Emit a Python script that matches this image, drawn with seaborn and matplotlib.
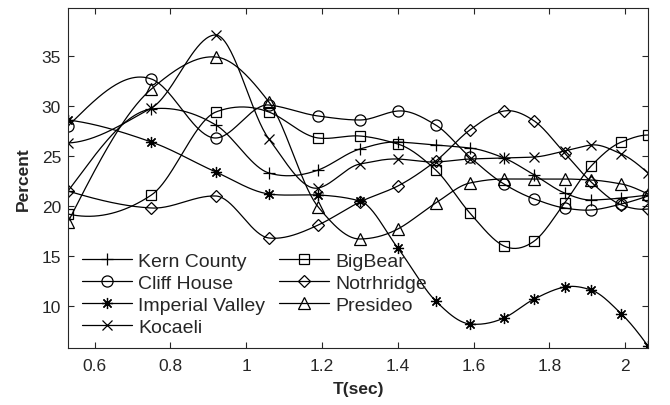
import numpy as np
import pandas as pd
import matplotlib
matplotlib.use("Agg")
import matplotlib.pyplot as plt
import seaborn as sns
from matplotlib.lines import Line2D

# periods (s) where the markers sit
T = [0.53, 0.75, 0.92, 1.06, 1.19, 1.30, 1.40, 1.50, 1.59, 1.68, 1.76, 1.84, 1.91, 1.99, 2.06]

kern_county = [21.5, 29.7, 28.1, 23.3, 23.6, 25.7, 26.4, 26.1, 25.8, 24.8, 23.1, 21.3, 20.6, 20.8, 21.1]
cliff_house = [28.0, 32.7, 26.8, 30.1, 29.0, 28.6, 29.5, 28.1, 24.9, 22.2, 20.7, 19.8, 19.6, 20.2, 21.0]
imperial_valley = [28.6, 26.4, 23.4, 21.2, 21.1, 20.5, 15.8, 10.5, 8.2, 8.8, 10.7, 11.9, 11.6, 9.2, 6.0]
kocaeli = [26.3, 29.8, 37.1, 26.7, 21.8, 24.2, 24.7, 24.4, 24.7, 24.8, 24.9, 25.5, 26.1, 25.2, 23.3]
bigbear = [19.2, 21.1, 29.4, 29.4, 26.8, 27.0, 26.2, 23.6, 19.3, 16.0, 16.5, 20.3, 24.0, 26.4, 27.1]
notrhridge = [21.5, 19.8, 21.0, 16.8, 18.1, 20.4, 22.0, 24.5, 27.6, 29.5, 28.5, 25.3, 22.4, 20.1, 19.7]
presideo = [18.4, 31.7, 34.9, 30.4, 19.9, 16.7, 17.7, 20.3, 22.3, 22.7, 22.7, 22.7, 22.6, 22.2, 21.2]

# legend fills column by column: left column first, then right one
names = ["Kern County", "Cliff House", "Imperial Valley", "Kocaeli",
         "BigBear", "Notrhridge", "Presideo"]
series = [kern_county, cliff_house, imperial_valley, kocaeli,
          bigbear, notrhridge, presideo]
markers = ["+", "o", (8, 2, 0), "x", "s", "D", "^"]
msizes = [8, 8, 8, 6.5, 6.5, 6.5, 8]


def makima_curve(x, y, n=400):
    # modified Akima interpolation for the smooth lines between markers
    x = np.asarray(x, float)
    y = np.asarray(y, float)
    h = np.diff(x)
    d = np.diff(y) / h
    d = np.concatenate([[3 * d[0] - 2 * d[1], 2 * d[0] - d[1]], d,
                        [2 * d[-1] - d[-2], 3 * d[-1] - 2 * d[-2]]])
    slopes = np.zeros(len(x))
    for i in range(len(x)):
        dm2, dm1, d0, dp1 = d[i], d[i + 1], d[i + 2], d[i + 3]
        w1 = abs(dp1 - d0) + abs(dp1 + d0) / 2
        w2 = abs(dm1 - dm2) + abs(dm1 + dm2) / 2
        if w1 + w2 == 0:
            slopes[i] = 0.0
        else:
            slopes[i] = (w1 * dm1 + w2 * d0) / (w1 + w2)
    xs = np.linspace(x[0], x[-1], n)
    k = np.clip(np.searchsorted(x, xs) - 1, 0, len(x) - 2)
    hk = h[k]
    t = (xs - x[k]) / hk
    h00 = 2 * t**3 - 3 * t**2 + 1
    h10 = t**3 - 2 * t**2 + t
    h01 = -2 * t**3 + 3 * t**2
    h11 = t**3 - t**2
    ys = h00 * y[k] + h10 * hk * slopes[k] + h01 * y[k + 1] + h11 * hk * slopes[k + 1]
    return xs, ys


sns.set_style("ticks")
plt.rcParams["font.family"] = ["Liberation Sans", "DejaVu Sans"]
plt.rcParams["axes.edgecolor"] = "#262626"

fig = plt.figure(figsize=(6.7, 4.06), dpi=100)
ax = fig.add_axes([0.1015, 0.1404, 0.8657, 0.8374])

handles = []
for name, vals, mk, ms in zip(names, series, markers, msizes):
    xs, ys = makima_curve(T, vals)
    sns.lineplot(x=xs, y=ys, color="black", lw=0.9, ax=ax, sort=False)
    ax.plot(T, vals, linestyle="none", marker=mk, ms=ms, mfc="none",
            mec="black", mew=0.9)
    handles.append(Line2D([], [], color="black", lw=0.9, marker=mk, ms=ms,
                          mfc="none", mec="black", mew=0.9, label=name))

ax.set_xlim(0.53, 2.06)
ax.set_ylim(5.8, 39.8)
ax.set_xticks([0.6, 0.8, 1.0, 1.2, 1.4, 1.6, 1.8, 2.0])
ax.set_xticklabels(["0.6", "0.8", "1", "1.2", "1.4", "1.6", "1.8", "2"])
ax.set_yticks([10, 15, 20, 25, 30, 35])
ax.tick_params(direction="in", length=4, width=0.8, top=True, right=True,
               labelsize=12.5, colors="#262626", labelcolor="#262626")
ax.tick_params(axis="x", pad=7)
ax.tick_params(axis="y", pad=5)
for s in ax.spines.values():
    s.set_visible(True)
    s.set_linewidth(0.8)

ax.set_xlabel("T(sec)", fontsize=12.5, fontweight="bold", labelpad=6)
ax.set_ylabel("Percent", fontsize=12.5, fontweight="bold", labelpad=8)

ax.legend(handles=handles, ncol=2, frameon=False, loc="lower left",
          bbox_to_anchor=(0.0, -0.005), fontsize=14, handlelength=2.6,
          handletextpad=0.3, columnspacing=0.7, labelspacing=0.23,
          borderaxespad=0.3)

fig.savefig("out.png", dpi=100)
